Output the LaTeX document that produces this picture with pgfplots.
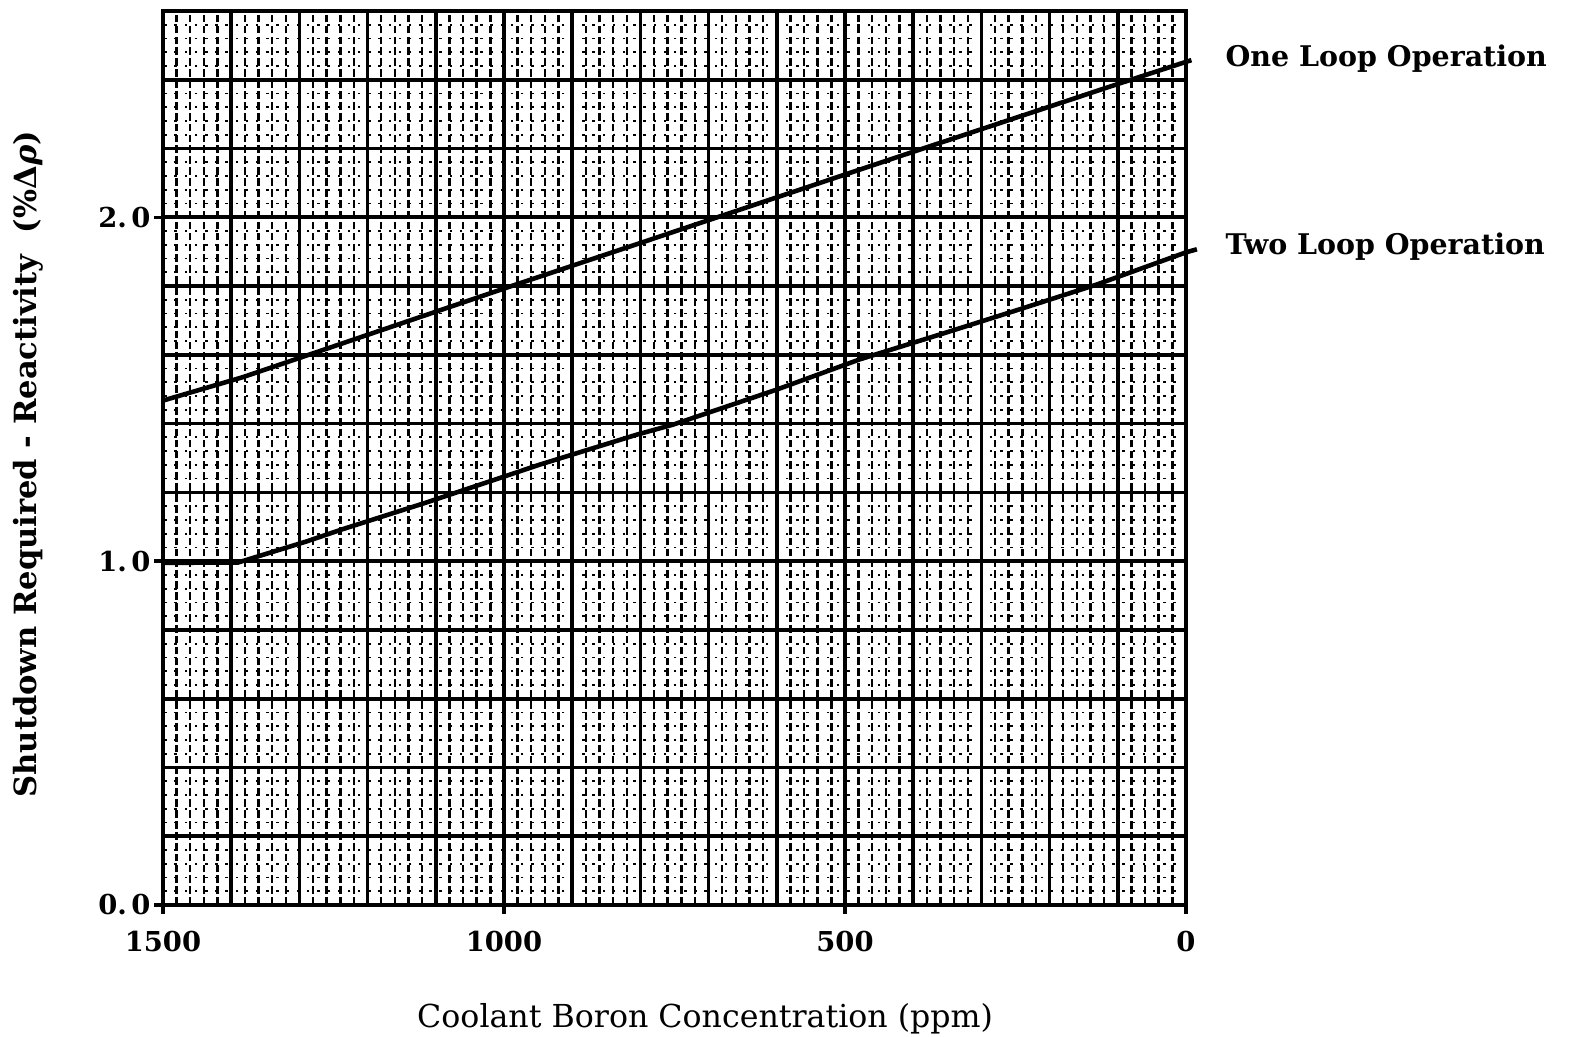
\documentclass[border=0pt]{standalone}
\usepackage{pgfplots}
\pgfplotsset{compat=1.18}
\usepackage{fontspec}
\setmainfont{DejaVu Serif}
\begin{document}
\begin{tikzpicture}
\begin{axis}[
  name=ax,
  at={(0,0)}, anchor=south west,
  scale only axis,
  width=102.3mm, height=89.4mm,
  x dir=reverse,
  xmin=0, xmax=1500,
  ymin=0, ymax=2.6,
  clip=false,
  axis line style={line width=1.05pt},
  xtick={0,500,1000,1500},
  xticklabels={0,500,1000,1500},
  ytick={0,1,2},
  yticklabels={0.\,0,1.\,0,2.\,0},
  xtick pos=left, ytick pos=left,
  tick align=outside,
  major tick length=0.9mm,
  tick style={line width=1pt, black},
  ticklabel style={font=\fontsize{7.8}{9}\selectfont\bfseries},
  xticklabel style={yshift=-0.5mm},
  yticklabel style={xshift=0.9mm},
  xmajorgrids=false, ymajorgrids=false,
  extra x ticks={0,100,...,1500},
  extra y ticks={0,0.2,0.4,0.6,0.8,1.0,1.2,1.4,1.6,1.8,2.0,2.2,2.4,2.6},
  extra x tick style={grid=major, major tick length=0pt, xticklabel={}},
  extra y tick style={grid=major, major tick length=0pt, yticklabel={}},
  major grid style={black, line width=1.05pt},
  minor xtick={0,20,...,1500},
  minor ytick={0,0.04,...,2.6},
  minor tick length=0pt,
  xminorgrids, yminorgrids,
  minor x grid style={black, line width=0.7pt, dash pattern=on 2.2pt off 0.9pt},
  minor y grid style={black, line width=0.5pt, dash pattern=on 0.7pt off 2.2pt},
  xlabel={Coolant Boron Concentration (ppm)},
  ylabel={Shutdown Required - Reactivity\ \ (\%Δ\textit{ρ})},
  every axis x label/.style={at={(axis description cs:0.530,-0.127)}, anchor=center, font=\fontsize{9}{10}\selectfont},
  every axis y label/.style={at={(axis description cs:-0.132,0.493)}, rotate=90, anchor=center, font=\fontsize{8.7}{10}\selectfont\bfseries},
]
\addplot[black, line width=1.3pt] coordinates {
  (1500,1.467) (1383,1.535) (1001,1.792) (419,2.178) (104,2.385) (0,2.452) (-8,2.457)
};
\addplot[black, line width=1.3pt] coordinates {
  (1500,0.995) (1390,0.996) (1290,1.057) (1238,1.092) (1113,1.171) (947,1.281)
  (805,1.368) (752,1.397) (600,1.499) (478,1.587) (361,1.659) (254,1.726)
  (130,1.805) (0,1.898) (-16,1.907)
};
\node[anchor=west, font=\fontsize{8.1}{10}\selectfont\bfseries] at (axis cs:-40,2.462) {One Loop Operation};
\node[anchor=west, font=\fontsize{8.1}{10}\selectfont\bfseries] at (axis cs:-40,1.915) {Two Loop Operation};
\end{axis}
\pgfresetboundingbox
\path (ax.south west) ++(-16.3mm,-13.2mm) rectangle ++(157.5mm,103.7mm);
\end{tikzpicture}
\end{document}
